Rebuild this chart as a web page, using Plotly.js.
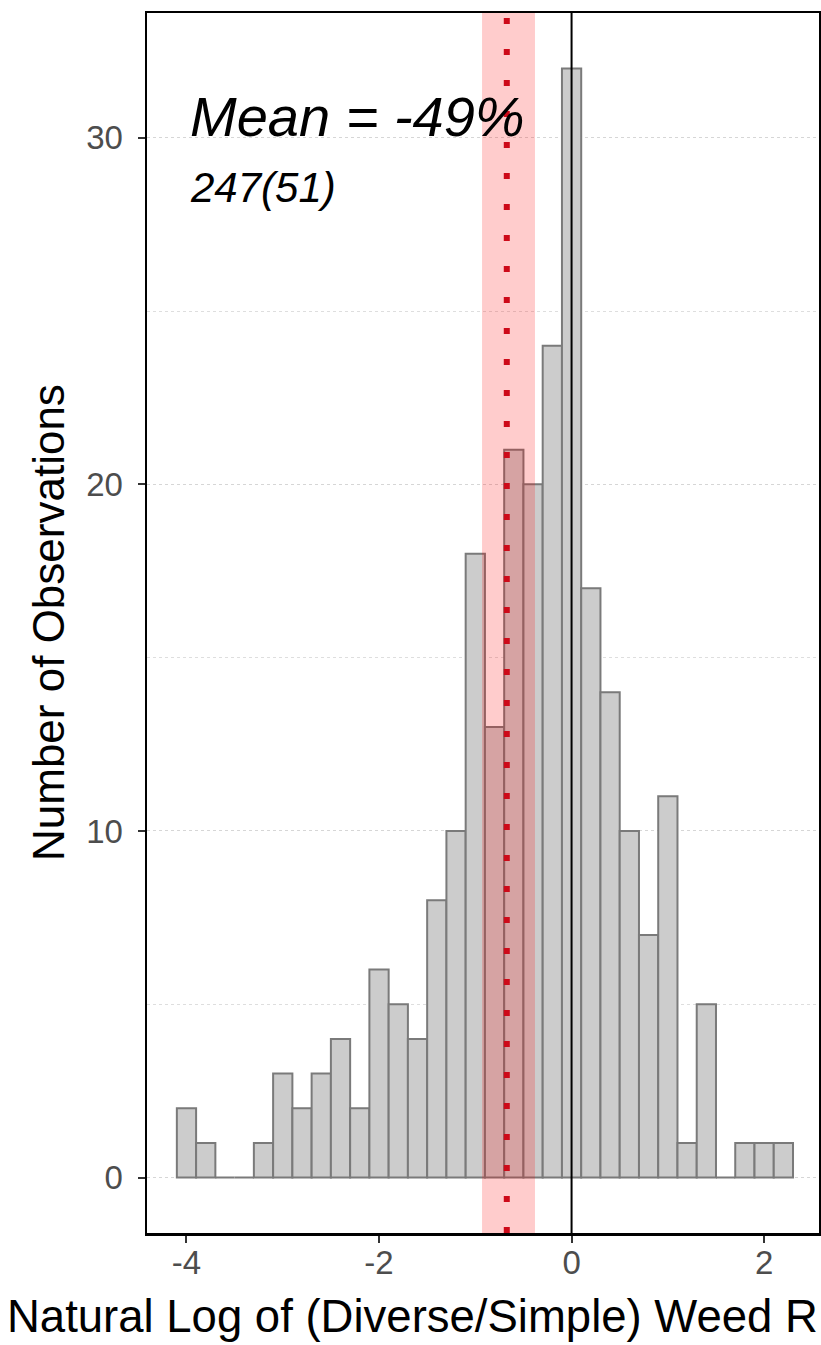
<!DOCTYPE html>
<html>
<head>
<meta charset="utf-8">
<script src="https://cdn.plot.ly/plotly-3.0.1.min.js"></script>
<style>
  html, body { margin: 0; padding: 0; background: #ffffff; }
  #chart { width: 821px; height: 1345px; }
</style>
</head>
<body>
<div id="chart"></div>
<script>
// ---- data ----
const binCenters = [-4.0, -3.8, -3.6, -3.4, -3.2, -3.0, -2.8, -2.6, -2.4, -2.2,
                    -2.0, -1.8, -1.6, -1.4, -1.2, -1.0, -0.8, -0.6, -0.4, -0.2,
                     0.0,  0.2,  0.4,  0.6,  0.8,  1.0,  1.2,  1.4,  1.6,  1.8,
                     2.0,  2.2];
const counts     = [2, 1, 0, 0, 1, 3, 2, 3, 4, 2,
                    6, 5, 4, 8, 10, 18, 13, 21, 20, 24,
                    32, 17, 14, 10, 7, 11, 1, 5, 0, 1,
                    1, 1];
const binWidth = 0.2;
const meanLog = -0.673;      // ln(1 - 0.49)
const ciLow = -0.93;
const ciHigh = -0.38;
const xTickVals = [-4, -2, 0, 2];
const xTickText = ['-4', '-2', '0', '2'];
const yTickVals = [0, 10, 20, 30];
const yMinorVals = [5, 15, 25];
const meanLabel = 'Mean = -49%';
const nLabel = '247(51)';
const xTitle = 'Natural Log of (Diverse/Simple) Weed R';
const yTitle = 'Number of Observations';

const FONT = 'Liberation Sans, Arial, sans-serif';

const trace = {
  type: 'bar',
  x: binCenters,
  y: counts,
  width: binWidth,
  marker: { color: '#cccccc', line: { color: '#7a7a7a', width: 2 } },
  hoverinfo: 'x+y'
};

const layout = {
  width: 821,
  height: 1345,
  margin: { l: 147, r: 2, t: 13, b: 112 },
  paper_bgcolor: '#ffffff',
  plot_bgcolor: '#ffffff',
  showlegend: false,
  bargap: 0,
  font: { family: FONT },
  xaxis: {
    range: [-4.41, 2.57],
    tickmode: 'array',
    tickvals: xTickVals,
    ticktext: xTickText,
    ticks: 'outside',
    ticklen: 7,
    tickwidth: 2,
    tickcolor: '#333333',
    ticklabelstandoff: -8,
    tickfont: { family: FONT, size: 33, color: '#4d4d4d' },
    showgrid: false,
    zeroline: false,
    showline: true,
    mirror: true,
    linecolor: '#000000',
    linewidth: 2.5
  },
  yaxis: {
    range: [-1.6, 33.6],
    tickmode: 'array',
    tickvals: yTickVals,
    ticks: 'outside',
    ticklen: 7,
    tickwidth: 2,
    tickcolor: '#333333',
    ticklabelstandoff: 8,
    tickfont: { family: FONT, size: 33, color: '#4d4d4d' },
    showgrid: true,
    gridcolor: '#d6d6d6',
    gridwidth: 1,
    griddash: 'dot',
    minor: {
      tickmode: 'array',
      tickvals: yMinorVals,
      showgrid: true,
      gridcolor: '#dedede',
      gridwidth: 1,
      griddash: 'dot',
      ticks: ''
    },
    zeroline: false,
    showline: true,
    mirror: true,
    linecolor: '#000000',
    linewidth: 2.5
  },
  shapes: [
    {
      type: 'rect', layer: 'above',
      xref: 'x', x0: ciLow, x1: ciHigh,
      yref: 'paper', y0: 0, y1: 1,
      fillcolor: 'rgba(255,0,0,0.2)',
      line: { width: 0 }
    },
    {
      type: 'line', layer: 'above',
      xref: 'x', x0: meanLog, x1: meanLog,
      yref: 'paper', y0: 0, y1: 1,
      line: { color: 'rgb(205,10,25)', width: 6, dash: '6px,25px' }
    },
    {
      type: 'line', layer: 'above',
      xref: 'x', x0: 0, x1: 0,
      yref: 'paper', y0: 0, y1: 1,
      line: { color: '#000000', width: 2 }
    }
  ],
  annotations: [
    {
      text: meanLabel, showarrow: false,
      xref: 'paper', x: 0.061, xanchor: 'left',
      yref: 'paper', y: 0.9148, yanchor: 'middle',
      font: { family: FONT, size: 56, color: '#000000', style: 'italic' }
    },
    {
      text: nLabel, showarrow: false,
      xref: 'paper', x: 0.061, xanchor: 'left',
      yref: 'paper', y: 0.8566, yanchor: 'middle',
      font: { family: FONT, size: 42, color: '#000000', style: 'italic' }
    },
    {
      text: xTitle, showarrow: false,
      xref: 'paper', x: (5 - 147) / 672, xanchor: 'left',
      yref: 'paper', y: (1233 - 1316) / 1220, yanchor: 'middle',
      font: { family: FONT, size: 45.5, color: '#000000' }
    },
    {
      text: yTitle, showarrow: false, textangle: -90,
      xref: 'paper', x: (48 - 147) / 672, xanchor: 'center',
      yref: 'paper', y: 0.5, yanchor: 'middle',
      font: { family: FONT, size: 44, color: '#000000' }
    }
  ]
};

Plotly.newPlot('chart', [trace], layout, { displayModeBar: false, staticPlot: true });
</script>
</body>
</html>
